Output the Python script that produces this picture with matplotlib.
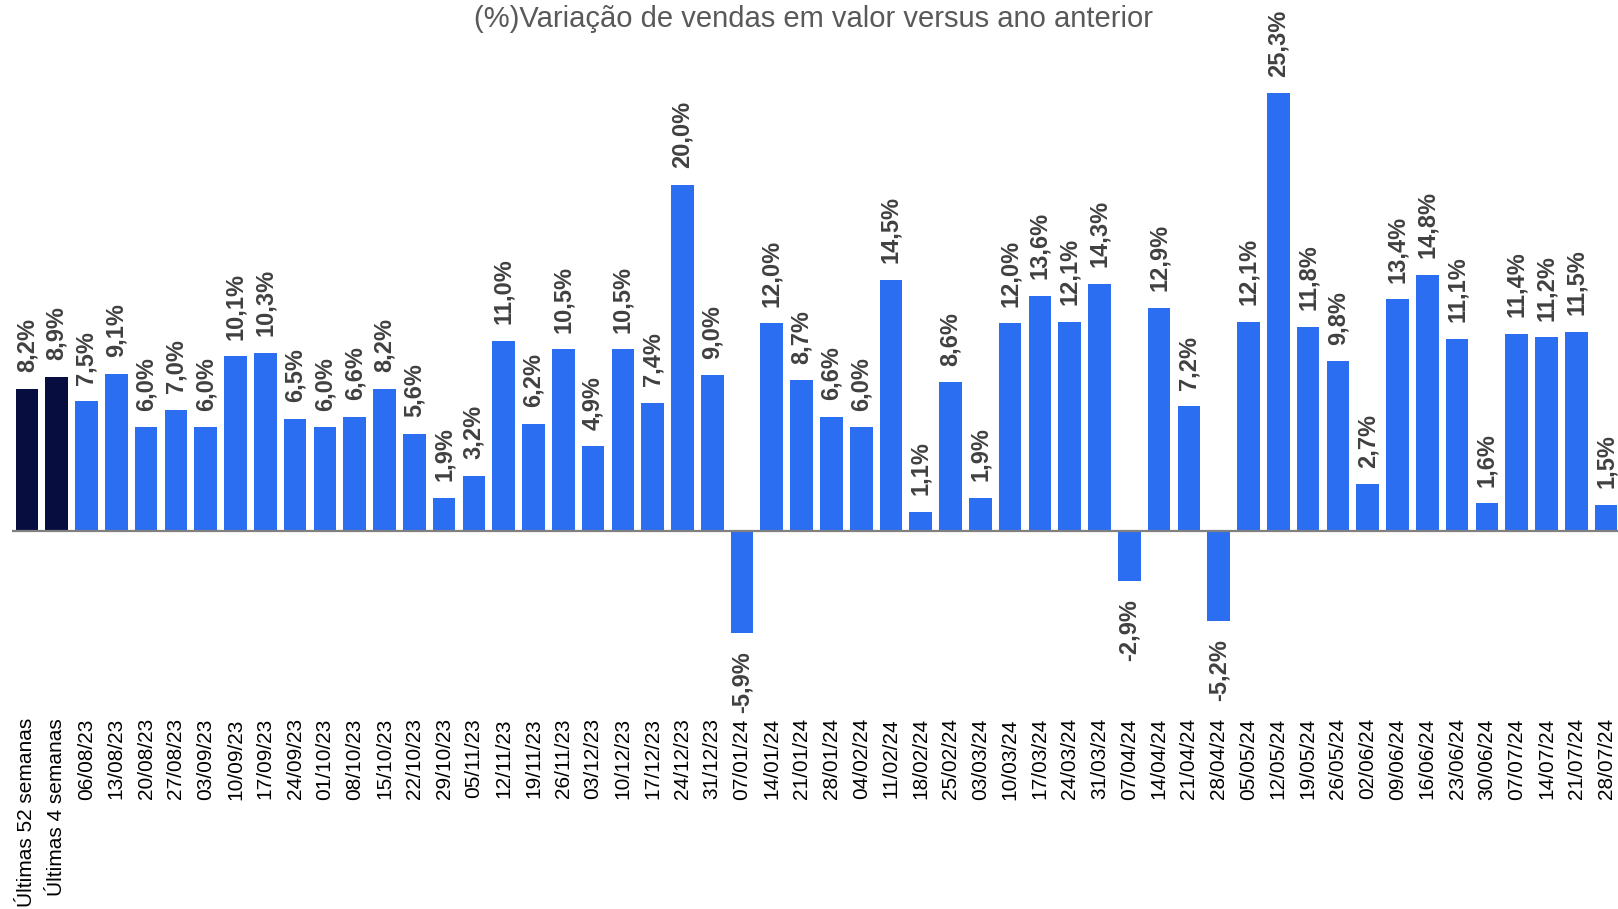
import matplotlib
matplotlib.use('Agg')
import matplotlib.pyplot as plt

plt.rcParams['font.family'] = ['Liberation Sans', 'DejaVu Sans']

categories = ['Últimas 52 semanas', 'Últimas 4 semanas',
              '06/08/23', '13/08/23', '20/08/23', '27/08/23', '03/09/23', '10/09/23', '17/09/23',
              '24/09/23', '01/10/23', '08/10/23', '15/10/23', '22/10/23', '29/10/23', '05/11/23',
              '12/11/23', '19/11/23', '26/11/23', '03/12/23', '10/12/23', '17/12/23', '24/12/23',
              '31/12/23', '07/01/24', '14/01/24', '21/01/24', '28/01/24', '04/02/24', '11/02/24',
              '18/02/24', '25/02/24', '03/03/24', '10/03/24', '17/03/24', '24/03/24', '31/03/24',
              '07/04/24', '14/04/24', '21/04/24', '28/04/24', '05/05/24', '12/05/24', '19/05/24',
              '26/05/24', '02/06/24', '09/06/24', '16/06/24', '23/06/24', '30/06/24', '07/07/24',
              '14/07/24', '21/07/24', '28/07/24']

values = [8.2, 8.9,
          7.5, 9.1, 6.0, 7.0, 6.0, 10.1, 10.3, 6.5, 6.0, 6.6, 8.2, 5.6, 1.9, 3.2,
          11.0, 6.2, 10.5, 4.9, 10.5, 7.4, 20.0, 9.0, -5.9, 12.0, 8.7, 6.6, 6.0, 14.5,
          1.1, 8.6, 1.9, 12.0, 13.6, 12.1, 14.3, -2.9, 12.9, 7.2, -5.2, 12.1, 25.3, 11.8,
          9.8, 2.7, 13.4, 14.8, 11.1, 1.6, 11.4, 11.2, 11.5, 1.5]

n_summary = 2
colors = ['#070D3F'] * n_summary + ['#2B6EF2'] * (len(values) - n_summary)

W, H = 1618, 909
fig = plt.figure(figsize=(W / 100, H / 100), dpi=100)

# axes placed in pixels: zero line at y=531, 17.3 px per point
ax_left, ax_right = 12, 1621
ax_top, ax_bottom = 60, 714
px_per_unit = 17.3
zero_y = 531
ymax = (zero_y - ax_top) / px_per_unit
ymin = -(ax_bottom - zero_y) / px_per_unit

ax = fig.add_axes([ax_left / W, 1 - ax_bottom / H, (ax_right - ax_left) / W, (ax_bottom - ax_top) / H])
x = list(range(len(values)))
ax.bar(x, values, width=0.76, color=colors, zorder=2)
ax.axhline(0, color='#808080', lw=1.6, zorder=3)

for xi, v in zip(x, values):
    txt = f'{v:.1f}%'.replace('.', ',')
    if v >= 0:
        ax.annotate(txt, (xi, v), xytext=(0, 12), textcoords='offset points',
                    rotation=90, ha='center', va='bottom', fontsize=17,
                    fontweight='bold', color='#404040')
    else:
        ax.annotate(txt, (xi, v), xytext=(0, -13), textcoords='offset points',
                    rotation=90, ha='center', va='top', fontsize=17,
                    fontweight='bold', color='#404040')

ax.set_xlim(-0.5, len(values) - 0.5)
ax.set_ylim(ymin, ymax)
ax.set_xticks(x)
ax.set_xticklabels(categories, rotation=90, fontsize=15, color='black')
ax.tick_params(axis='x', length=0, pad=3)
ax.set_yticks([])
for s in ax.spines.values():
    s.set_visible(False)

fig.text(0.503, 1 - 19 / H, '(%)Variação de vendas em valor versus ano anterior',
         ha='center', va='center', fontsize=21, color='#595959')

fig.savefig('out.png', dpi=100)
